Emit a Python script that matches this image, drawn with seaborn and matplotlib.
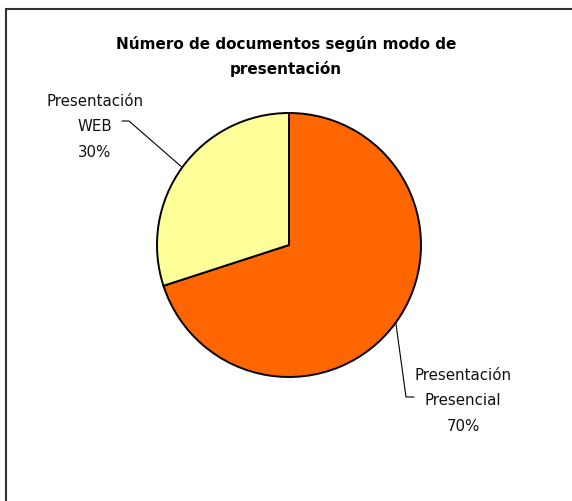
import matplotlib
matplotlib.use("Agg")
import matplotlib.pyplot as plt
from matplotlib.patches import Rectangle
import numpy as np
import seaborn as sns

# data
categories = ["Presentación\nPresencial", "Presentación\nWEB"]
values = [70, 30]
colors = ["#FF6600", "#FFFF99"]
title = "Número de documentos según modo de\npresentación"

sns.set_theme(style="white")
plt.rcParams['font.family'] = ['DejaVu Sans']
plt.rcParams['text.color'] = 'black'

W, H = 572, 502
fig = plt.figure(figsize=(W / 100, H / 100), dpi=100)
fig.patch.set_facecolor("white")

# pie centre and radius in pixels
cx, cy, rpx = 289, 246, 132
ax = fig.add_axes([0, 0, 1, 1])
wedges, _ = ax.pie(values, colors=colors, startangle=90, counterclock=False,
                   radius=1, wedgeprops=dict(edgecolor="black", linewidth=1.4))
ax.set_xlim(-cx / rpx, (W - cx) / rpx)
ax.set_ylim((cy - H) / rpx, cy / rpx)
ax.set_aspect("equal")
ax.axis("off")

total = sum(values)

def px(x, y):
    # pixel (from top-left) to data coords
    return (x - cx) / rpx, (cy - y) / rpx

# label layout: text centre, elbow points (pixels)
layout = {
    0: dict(text=(463, 401), elbow=[(414, 398), (406, 398)]),
    1: dict(text=(95, 127), elbow=[(122, 122), (129, 122)]),
}

for i, w in enumerate(wedges):
    mid = np.deg2rad((w.theta1 + w.theta2) / 2)
    rim = (np.cos(mid), np.sin(mid))
    lay = layout[i]
    pts = [px(*p) for p in lay["elbow"]] + [rim]
    ax.plot([p[0] for p in pts], [p[1] for p in pts], color="black", lw=0.8)
    tx, ty = px(*lay["text"])
    pct = round(values[i] / total * 100)
    ax.text(tx, ty, f"{categories[i]}\n{pct}%", ha="center", va="center",
            fontsize=10.8, linespacing=1.9, color="#111111")

fig.text(286 / W, 1 - 56.5 / H, title, ha="center", va="center",
         fontsize=11, fontweight="bold", linespacing=1.7, color="black")

# chart area border (top and left visible)
fig.patches.append(Rectangle((6 / W, -0.1), 1.2, 1 - 10 / H + 0.1,
                             transform=fig.transFigure, fill=False,
                             edgecolor="#333333", linewidth=1.5))

fig.savefig("out.png", dpi=100)
